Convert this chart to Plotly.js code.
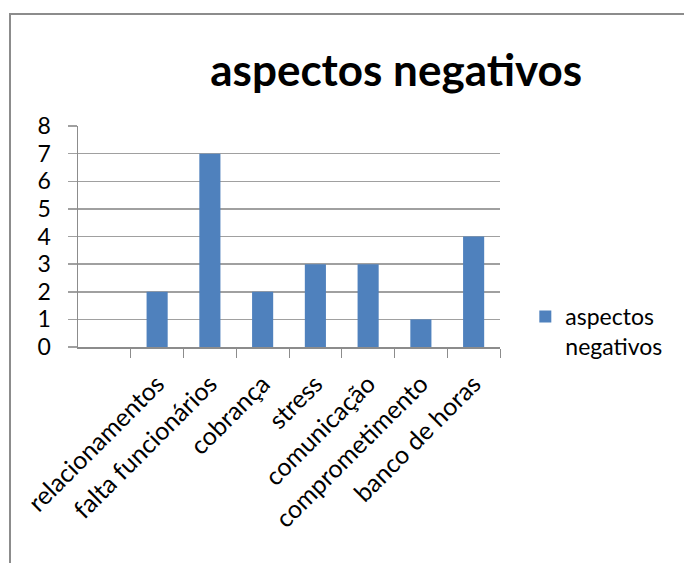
<!DOCTYPE html>
<html>
<head>
<meta charset="utf-8">
<script src="https://cdn.plot.ly/plotly-3.0.1.min.js"></script>
<style>
html,body{margin:0;padding:0;background:#fff;overflow:hidden;width:684px;height:563px;}
#chart{width:684px;height:563px;position:absolute;left:0;top:0;}
#frame{position:absolute;left:9px;top:13px;width:680px;height:560px;border-left:2px solid #8c8c8c;border-top:2px solid #8c8c8c;pointer-events:none;}
</style>
</head>
<body>
<div id="chart"></div>
<div id="frame"></div>
<script>
const categories = ["relacionamentos", "falta funcionários", "cobrança", "stress", "comunicação", "comprometimento", "banco de horas"];
const values = [2, 7, 2, 3, 3, 1, 4];
const seriesName = "aspectos<br>negativos";
const yTicks = [0, 1, 2, 3, 4, 5, 6, 7, 8];

const FONT = "Lato, 'Open Sans', sans-serif";

Plotly.newPlot("chart", [{
  type: "bar",
  x: categories,
  y: values,
  name: seriesName,
  marker: {color: "#4F81BD"},
  showlegend: true
}], {
  width: 684, height: 563,
  margin: {l: 78, r: 184, t: 126, b: 216, pad: 0},
  paper_bgcolor: "#ffffff",
  plot_bgcolor: "#ffffff",
  bargap: 0.6,
  font: {family: FONT, color: "#000000", size: 20},
  title: {
    text: "<b>aspectos negativos</b>",
    font: {family: FONT, size: 44, color: "#000000"},
    x: 0.754, xref: "paper", xanchor: "center",
    y: 1, yref: "container", yanchor: "top", pad: {t: 55}
  },
  xaxis: {
    type: "category",
    range: [-1.5, 6.5],
    tickson: "boundaries",
    ticks: "outside", ticklen: 9, tickcolor: "#8c8c8c", tickwidth: 1,
    showline: true, linecolor: "#8c8c8c", linewidth: 1.5,
    showgrid: false,
    tickangle: -45,
    tickfont: {family: FONT, size: 25, color: "#000000"},
    ticklabelstandoff: 11,
    automargin: false
  },
  yaxis: {
    range: [0, 8],
    tickvals: yTicks,
    ticktext: yTicks.map(String),
    ticks: "outside", ticklen: 9, tickcolor: "#a0a0a0", tickwidth: 1.5,
    showline: true, linecolor: "#8c8c8c", linewidth: 1.5,
    showgrid: true, gridcolor: "#a0a0a0", gridwidth: 1.5,
    zeroline: false,
    tickfont: {family: FONT, size: 23, color: "#000000"},
    ticklabelstandoff: 12,
    automargin: false
  },
  legend: {
    x: 1.06, xanchor: "left", y: 0.07, yanchor: "middle",
    valign: "top",
    font: {family: FONT, size: 23, color: "#000000"},
    bgcolor: "rgba(0,0,0,0)"
  }
}, {staticPlot: true});
</script>
</body>
</html>
